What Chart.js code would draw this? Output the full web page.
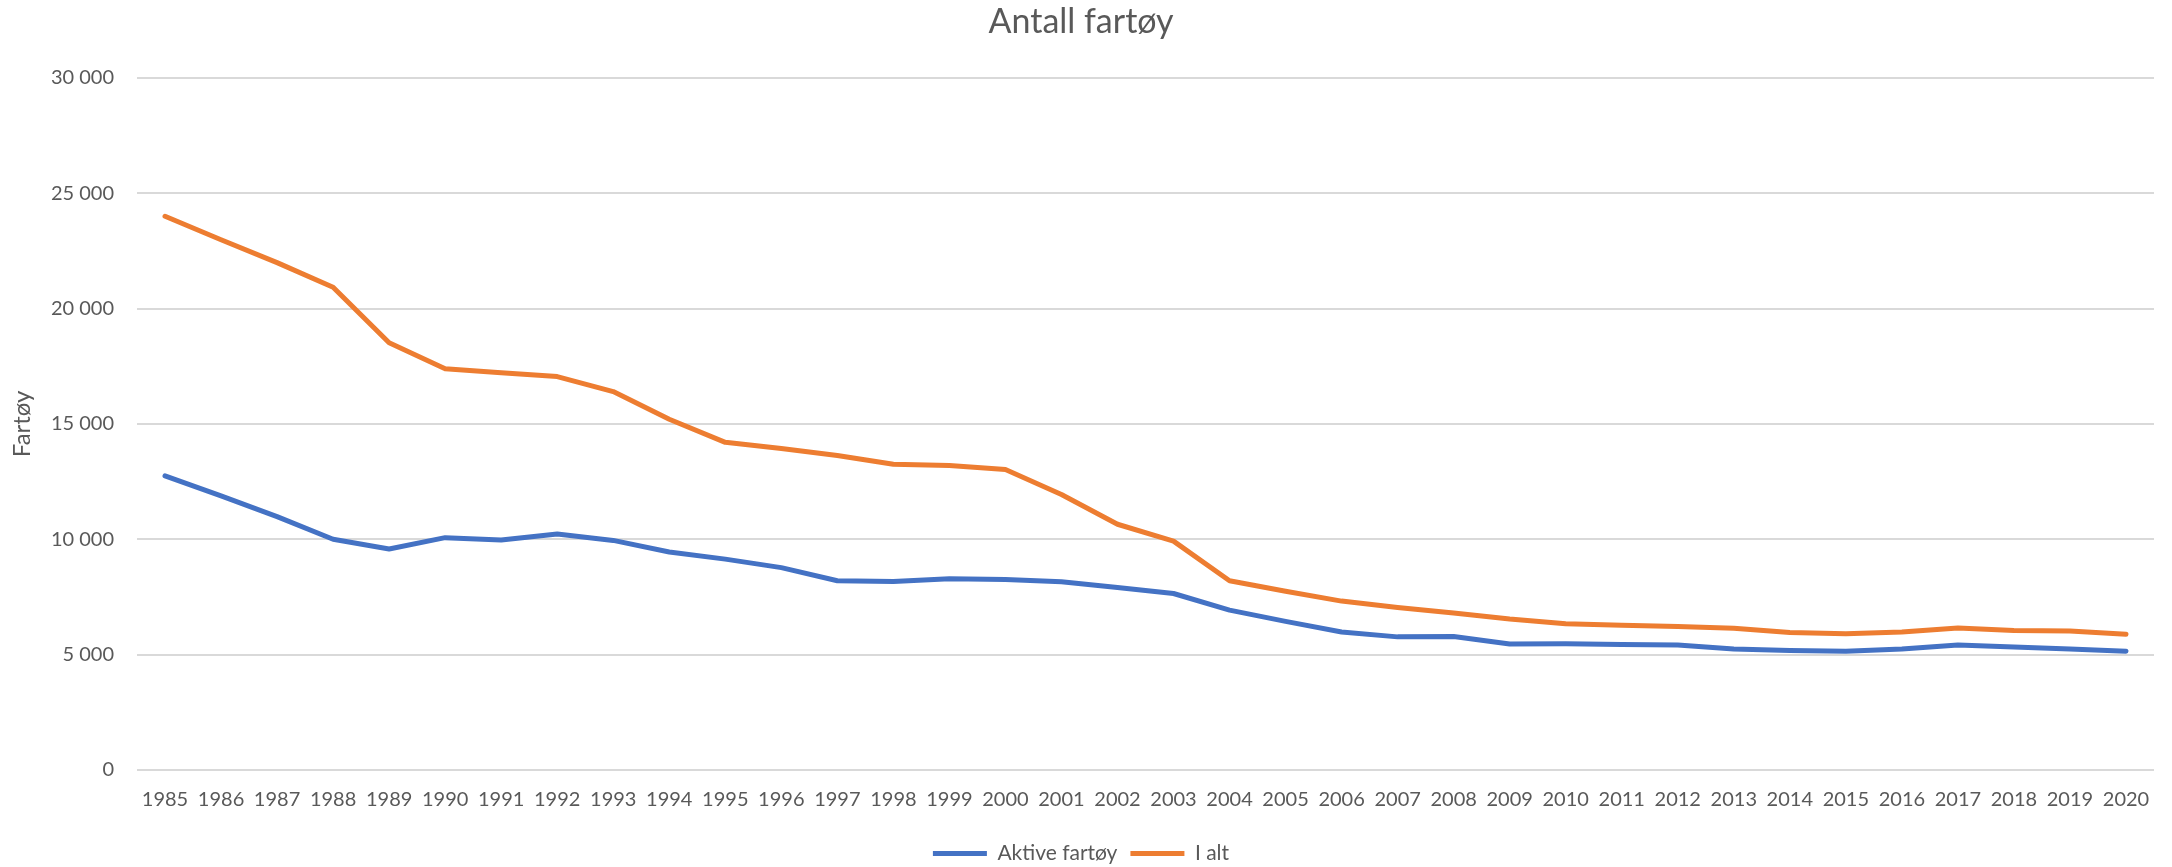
<!DOCTYPE html>
<html>
<head>
<meta charset="utf-8">
<script src="https://cdn.jsdelivr.net/npm/chart.js@4"></script>
<style>
  html, body { margin: 0; padding: 0; background: #fff; }
</style>
</head>
<body>
<canvas id="chart" width="2172" height="867"></canvas>
<script>
// years on the x axis
const years = [
    '1985', '1986', '1987', '1988', '1989', '1990', '1991', '1992', '1993', '1994',
    '1995', '1996', '1997', '1998', '1999', '2000', '2001', '2002', '2003', '2004',
    '2005', '2006', '2007', '2008', '2009', '2010', '2011', '2012', '2013', '2014',
    '2015', '2016', '2017', '2018', '2019', '2020'
];

// Aktive fartøy
const aktive = [
    12750, 11880, 10980, 10000, 9580, 10070, 9970, 10230, 9950, 9450,
    9140, 8770, 8200, 8170, 8290, 8260, 8160, 7910, 7650, 6930,
    6440, 5980, 5770, 5790, 5460, 5470, 5440, 5420, 5240, 5180,
    5150, 5240, 5420, 5330, 5240, 5150
];

// I alt
const iAlt = [
    24000, 22980, 21990, 20920, 18520, 17390, 17220, 17050, 16400, 15200,
    14200, 13930, 13630, 13250, 13200, 13020, 11940, 10650, 9920, 8200,
    7750, 7320, 7040, 6800, 6540, 6340, 6270, 6220, 6140, 5960,
    5900, 5980, 6150, 6050, 6020, 5880
];

const yMax = 30000;
const yStep = 5000;

const textColor = '#595959';
const fontFamily = 'Lato, "Liberation Sans", sans-serif';

// "30 000" style thousands separator
function fmt(v) {
    return String(v).replace(/\B(?=(\d{3})+(?!\d))/g, ' ');
}

const data = {
    labels: years,
    datasets: [{
        label: 'Aktive fartøy',
        data: aktive,
        borderColor: '#4472C4',
        backgroundColor: '#4472C4',
        borderWidth: 5,
        borderCapStyle: 'round',
        borderJoinStyle: 'round',
        pointRadius: 0,
        tension: 0
    }, {
        label: 'I alt',
        data: iAlt,
        borderColor: '#ED7D31',
        backgroundColor: '#ED7D31',
        borderWidth: 5,
        borderCapStyle: 'round',
        borderJoinStyle: 'round',
        pointRadius: 0,
        tension: 0
    }]
};

const config = {
    type: 'line',
    data: data,
    options: {
        responsive: false,
        animation: false,
        events: [],
        layout: {
            padding: { left: 8, right: 18, top: 0, bottom: -7 }
        },
        plugins: {
            title: {
                display: true,
                text: 'Antall fartøy',
                color: textColor,
                font: { family: fontFamily, size: 34, weight: 'normal' },
                padding: { top: 2, bottom: 35 }
            },
            legend: {
                position: 'bottom',
                labels: {
                    color: textColor,
                    font: { family: fontFamily, size: 21 },
                    usePointStyle: true,
                    pointStyle: 'line',
                    pointStyleWidth: 54,
                    padding: 13
                }
            },
            tooltip: { enabled: false }
        },
        scales: {
            x: {
                offset: true,
                grid: { display: false, drawTicks: false },
                border: { display: false },
                ticks: {
                    color: textColor,
                    font: { family: fontFamily, size: 20 },
                    maxRotation: 0,
                    autoSkip: false,
                    padding: 18
                }
            },
            y: {
                min: 0,
                max: yMax,
                grid: { color: '#d9d9d9', lineWidth: 2, drawTicks: false },
                border: { display: false },
                ticks: {
                    stepSize: yStep,
                    color: textColor,
                    font: { family: fontFamily, size: 20 },
                    padding: 23,
                    callback: v => fmt(v)
                },
                title: {
                    display: true,
                    text: 'Fartøy',
                    color: textColor,
                    font: { family: fontFamily, size: 24 },
                    padding: { top: 0, bottom: 0 }
                },
                afterFit: scale => { scale.width = 129; }
            }
        }
    }
};

const chart = new Chart(document.getElementById('chart'), config);
</script>
</body>
</html>
